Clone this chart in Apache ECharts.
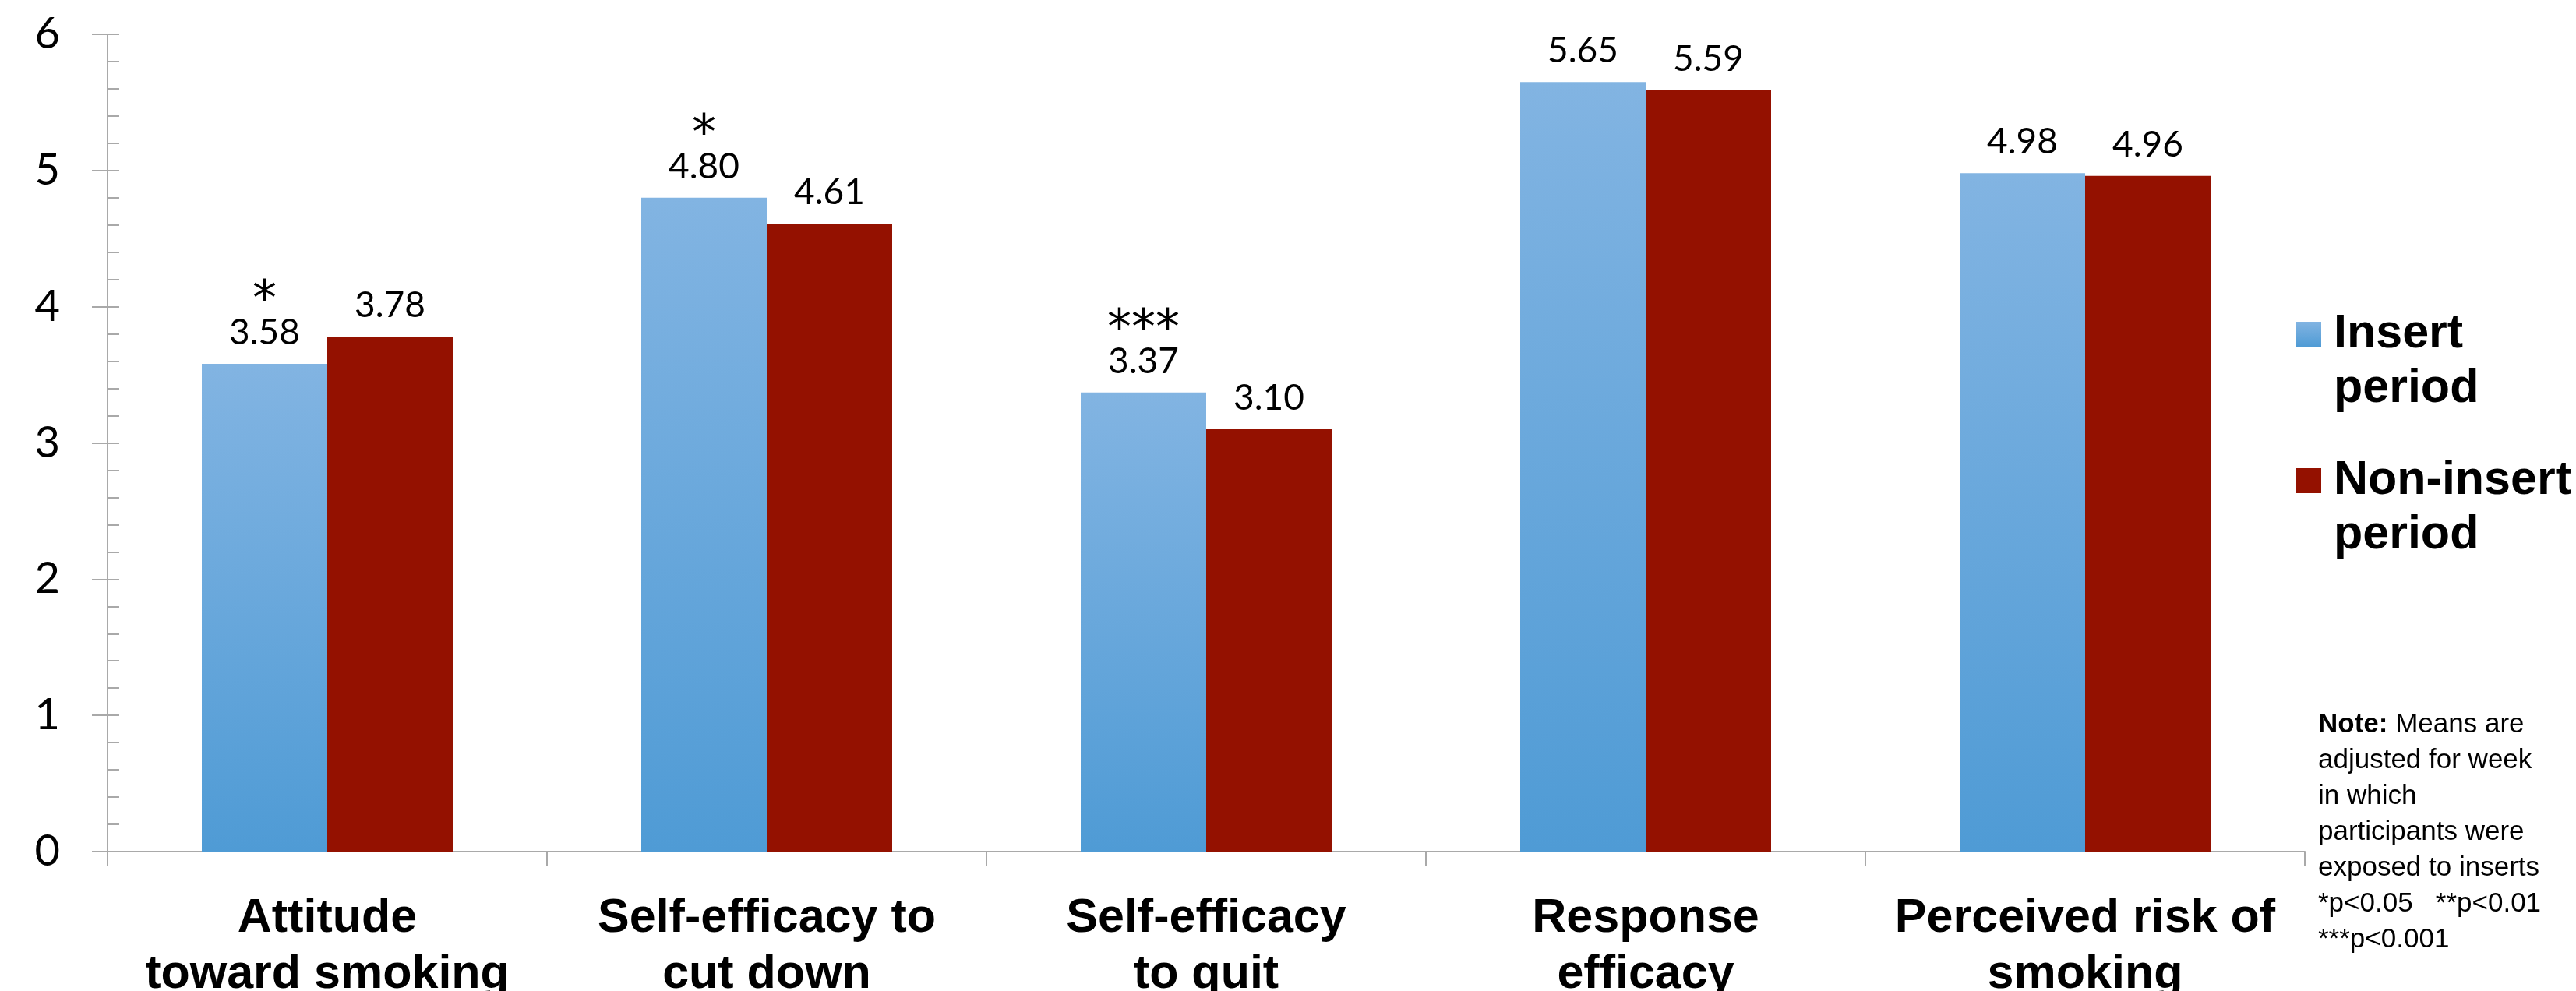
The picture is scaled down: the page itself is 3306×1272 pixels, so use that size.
<!DOCTYPE html>
<html>
<head>
<meta charset="utf-8">
<script src="https://cdn.jsdelivr.net/npm/echarts@6/dist/echarts.min.js"></script>
<style>
html,body{margin:0;padding:0;background:#fff;}
#chart{width:3306px;height:1272px;}
</style>
</head>
<body>
<div id="chart"></div>
<script>
// ---- data ----
const categories = ['Attitude\ntoward smoking', 'Self-efficacy to\ncut down', 'Self-efficacy\nto quit', 'Response\nefficacy', 'Perceived risk of\nsmoking'];
const insertPeriod = [3.58, 4.80, 3.37, 5.65, 4.98];
const nonInsertPeriod = [3.78, 4.61, 3.10, 5.59, 4.96];
const significance = ['*', '*', '***', '', ''];
const seriesNames = ['Insert period', 'Non-insert period'];
const yMin = 0, yMax = 6, yStep = 1;
const noteLines = ['Means are', 'adjusted for week', 'in which', 'participants were', 'exposed to inserts', '*p<0.05   **p<0.01', '***p<0.001'];

const chart = echarts.init(document.getElementById('chart'), null, {renderer: 'canvas'});
const axisGray = '#a9a9a9';
const numFont = 'Lato';
const boldFont = 'Liberation Sans';

const valueRich = {
  v: {fontFamily: numFont, fontSize: 46, lineHeight: 52, color: '#000'},
  s: {fontFamily: 'DejaVu Sans', fontSize: 62, lineHeight: 26, color: '#000'}
};

function legendCfg(name, top) {
  return {
    data: [name], left: 2947, top: top, orient: 'vertical', padding: 0,
    icon: 'rect', itemWidth: 32, itemHeight: 32, selectedMode: false,
    formatter: n => '\n' + n.replace(' ', '\n'),
    textStyle: {fontFamily: boldFont, fontWeight: 'bold', fontSize: 61, lineHeight: 70, color: '#000', padding: [0, 0, 0, 11]}
  };
}

const option = {
  backgroundColor: '#fff',
  animation: false,
  grid: {left: 138, right: 348, top: 44, bottom: 179, containLabel: false, outerBoundsMode: 'none'},
  legend: [legendCfg(seriesNames[0], 324), legendCfg(seriesNames[1], 512)],
  xAxis: {
    type: 'category', data: categories,
    axisLine: {lineStyle: {color: axisGray, width: 2}},
    axisTick: {show: true, length: 19, lineStyle: {color: axisGray, width: 2}},
    axisLabel: {interval: 0, margin: 50, fontFamily: boldFont, fontWeight: 'bold', fontSize: 61, lineHeight: 72, color: '#000'},
    splitLine: {show: false}
  },
  yAxis: [{
    type: 'value', min: yMin, max: yMax, interval: yStep, position: 'left', offset: 0,
    axisLine: {show: true, lineStyle: {color: axisGray, width: 2}},
    axisTick: {show: true, inside: false, length: 20, lineStyle: {color: axisGray, width: 2}},
    minorTick: {show: false},
    axisLabel: {margin: 61, fontFamily: numFont, fontSize: 56, color: '#000'},
    splitLine: {show: false}
  }, {
    type: 'value', min: yMin, max: yMax, interval: yStep, position: 'left', offset: 0,
    axisLine: {show: false},
    axisTick: {show: true, inside: true, length: 15, lineStyle: {color: axisGray, width: 2}},
    minorTick: {show: true, splitNumber: 5, length: 15, lineStyle: {color: axisGray, width: 2}},
    axisLabel: {show: false},
    splitLine: {show: false}
  }],
  series: [{
    name: seriesNames[0], type: 'bar', data: insertPeriod, barWidth: 161, barGap: '0%',
    itemStyle: {color: new echarts.graphic.LinearGradient(0, 0, 0, 1, [{offset: 0, color: '#82b4e2'}, {offset: 1, color: '#4f9bd5'}])},
    label: {
      show: true, position: 'top', distance: 14, rich: valueRich,
      formatter: p => (significance[p.dataIndex] ? '{s|' + significance[p.dataIndex] + '}\n' : '') + '{v|' + p.value.toFixed(2) + '}'
    }
  }, {
    name: seriesNames[1], type: 'bar', data: nonInsertPeriod, barWidth: 161, barGap: '0%',
    itemStyle: {color: '#941100'},
    label: {show: true, position: 'top', distance: 14, rich: valueRich, formatter: p => '{v|' + p.value.toFixed(2) + '}'}
  }],
  graphic: [{
    type: 'text', left: 2975, top: 913,
    style: {
      text: '{b|Note:}{n| ' + noteLines[0] + '}\n' + noteLines.slice(1).map(l => '{n|' + l + '}').join('\n'),
      rich: {
        b: {fontFamily: boldFont, fontWeight: 'bold', fontSize: 35, lineHeight: 46, fill: '#000'},
        n: {fontFamily: boldFont, fontSize: 35, lineHeight: 46, fill: '#000'}
      }
    }
  }]
};
chart.setOption(option);
</script>
</body>
</html>
